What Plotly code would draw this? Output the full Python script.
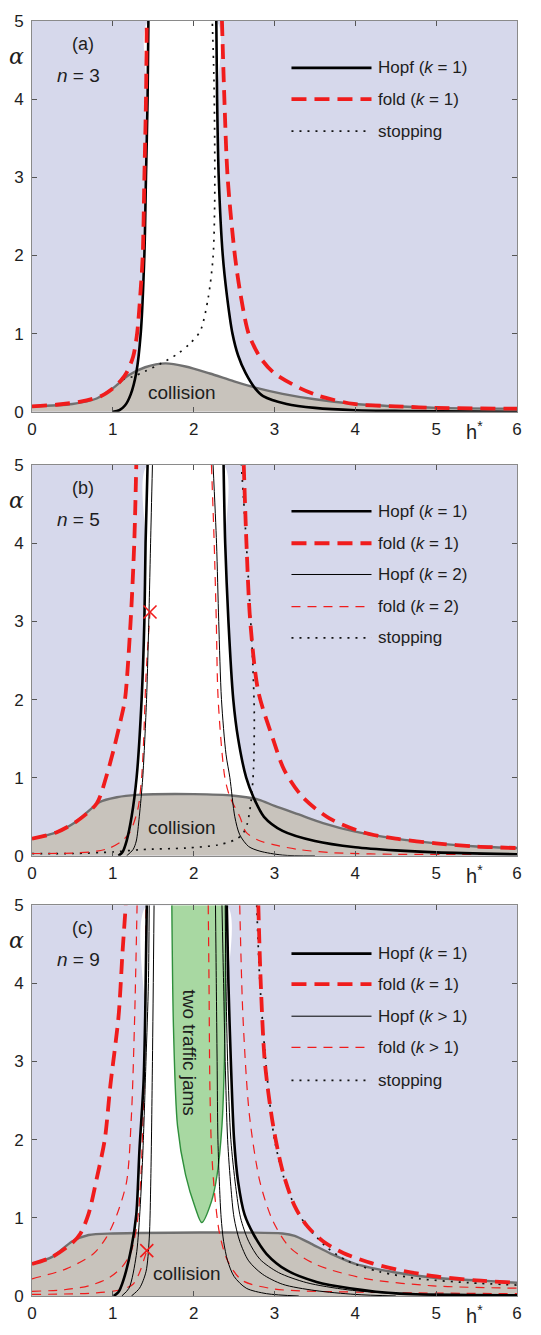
import plotly.graph_objects as go

# ================= DATA (h*, alpha) =================
# ---------- panel (a): n = 3 ----------
A_COLL_H = [0, 0.5, 0.8, 1.0, 1.2, 1.4, 1.65, 1.9, 2.2, 2.5, 2.8, 3.1, 3.5, 4.0, 4.5, 5.0, 6.0]
A_COLL_A = [0.07, 0.1, 0.17, 0.3, 0.47, 0.57, 0.62, 0.58, 0.49, 0.39, 0.3, 0.23, 0.16, 0.1, 0.07, 0.05, 0.04]
A_HOPF_L_H = [1.00, 1.08, 1.15, 1.22, 1.29, 1.345, 1.39, 1.41, 1.43, 1.44]
A_HOPF_L_A = [0.00, 0.02, 0.08, 0.22, 0.50, 1.00, 2.00, 3.00, 4.00, 5.00]
A_HOPF_R_H = [2.28, 2.29, 2.31, 2.36, 2.41, 2.48, 2.55, 2.64, 2.76, 2.86, 3.15, 3.5, 4.0, 4.6, 6.0]
A_HOPF_R_A = [5.0, 4.0, 3.0, 2.0, 1.5, 1.0, 0.72, 0.5, 0.3, 0.2, 0.1, 0.05, 0.02, 0.01, 0.0]
A_FOLD_L_H = [0.0, 0.3, 0.6, 0.85, 1.0, 1.1, 1.17, 1.25, 1.30, 1.34, 1.37, 1.39, 1.41, 1.42]
A_FOLD_L_A = [0.07, 0.09, 0.13, 0.2, 0.3, 0.4, 0.5, 0.7, 1.0, 1.5, 2.0, 3.0, 4.0, 5.0]
A_FOLD_R_H = [2.35, 2.38, 2.42, 2.51, 2.58, 2.68, 2.82, 2.99, 3.32, 3.56, 3.98, 4.5, 5.0, 6.0]
A_FOLD_R_A = [5.0, 4.0, 3.0, 2.0, 1.5, 1.0, 0.7, 0.5, 0.3, 0.2, 0.1, 0.07, 0.05, 0.04]
A_STOP_H = [1.12, 1.25, 1.4, 1.6, 1.8, 1.95, 2.08, 2.18, 2.24, 2.26, 2.26, 2.25, 2.23]
A_STOP_A = [0.42, 0.45, 0.52, 0.62, 0.74, 0.87, 1.03, 1.46, 1.98, 2.66, 3.5, 4.3, 5.0]

# ---------- panel (b): n = 5 ----------
B_COLL_H = [0, 0.3, 0.55, 0.84, 1.05, 1.3, 2.0, 2.5, 2.8, 3.0, 3.3, 3.6, 4.0, 4.5, 5.0, 5.5, 6.0]
B_COLL_A = [0.22, 0.3, 0.44, 0.69, 0.75, 0.78, 0.79, 0.77, 0.72, 0.64, 0.53, 0.42, 0.31, 0.22, 0.16, 0.12, 0.1]
B_HOPF1_L_H = [1.07, 1.12, 1.17, 1.232, 1.294, 1.356, 1.39, 1.405, 1.43]
B_HOPF1_L_A = [0.0, 0.05, 0.19, 0.5, 1.0, 2.0, 3.0, 4.0, 5.0]
B_HOPF1_R_H = [2.37, 2.39, 2.43, 2.49, 2.55, 2.65, 2.74, 2.87, 3.1, 3.5, 4.0, 4.5, 5.0, 6.0]
B_HOPF1_R_A = [5.0, 4.0, 3.0, 2.0, 1.5, 1.0, 0.75, 0.5, 0.32, 0.19, 0.11, 0.07, 0.045, 0.02]
B_HOPF2_L_H = [1.17, 1.25, 1.29, 1.327, 1.37, 1.417, 1.44, 1.467, 1.49]
B_HOPF2_L_A = [0.0, 0.08, 0.19, 0.5, 1.0, 2.0, 2.8, 4.0, 5.0]
B_HOPF2_R_H = [2.24, 2.283, 2.31, 2.344, 2.4, 2.448, 2.509, 2.57, 2.68, 2.82, 3.1, 3.5]
B_HOPF2_R_A = [5.0, 4.0, 3.0, 2.0, 1.3, 1.0, 0.5, 0.27, 0.12, 0.06, 0.01, 0.0]
B_FOLD1_L_H = [0.0, 0.3, 0.55, 0.8, 0.915, 1.02, 1.1, 1.15, 1.22, 1.265, 1.29]
B_FOLD1_L_A = [0.22, 0.3, 0.44, 0.67, 1.0, 1.4, 1.75, 2.0, 3.0, 4.0, 5.0]
B_FOLD1_R_H = [2.62, 2.653, 2.70, 2.80, 2.98, 3.12, 3.35, 3.68, 4.1, 4.5, 5.0, 5.5, 6.0]
B_FOLD1_R_A = [5.0, 4.0, 3.0, 2.1, 1.5, 1.1, 0.75, 0.48, 0.3, 0.22, 0.16, 0.12, 0.1]
B_FOLD2_L_H = [0.0, 0.5, 0.8, 0.96, 1.1, 1.21, 1.31, 1.356, 1.38, 1.41, 1.46]
B_FOLD2_L_A = [0.03, 0.035, 0.06, 0.1, 0.18, 0.3, 0.6, 1.0, 1.45, 2.29, 3.12]
B_FOLD2_R_H = [2.22, 2.254, 2.28, 2.303, 2.386, 2.45, 2.571, 2.65, 2.8, 3.0, 3.31, 3.73, 4.5, 6.0]
B_FOLD2_R_A = [5.0, 4.0, 3.0, 2.0, 1.0, 0.75, 0.5, 0.3, 0.2, 0.14, 0.08, 0.04, 0.02, 0.02]
B_STOP_H = [0.0, 0.5, 1.0, 1.35, 1.9, 2.3, 2.5, 2.6, 2.66, 2.71, 2.74, 2.75, 2.73, 2.69, 2.64, 2.59]
B_STOP_A = [0.03, 0.03, 0.05, 0.08, 0.1, 0.14, 0.2, 0.27, 0.4, 0.7, 1.1, 1.8, 2.5, 3.3, 4.2, 5.0]
B_CROSS = (1.46, 3.12)

# ---------- panel (c): n = 9 ----------
C_COLL_H = [0, 0.25, 0.5, 0.7, 1.0, 3.1, 3.25, 3.45, 3.7, 4.0, 4.5, 5.0, 5.5, 6.0]
C_COLL_A = [0.41, 0.5, 0.7, 0.78, 0.8, 0.8, 0.77, 0.67, 0.54, 0.41, 0.3, 0.23, 0.2, 0.17]
C_HOPF1_L_H = [1.01, 1.07, 1.13, 1.23, 1.29, 1.33, 1.38, 1.40, 1.42]
C_HOPF1_L_A = [0.0, 0.05, 0.2, 0.62, 1.04, 1.88, 2.73, 3.57, 5.0]
C_HOPF1_R_H = [2.41, 2.43, 2.46, 2.5, 2.55, 2.63, 2.74, 2.9, 3.15, 3.52, 3.93, 4.55, 6.0]
C_HOPF1_R_A = [5.0, 4.0, 3.0, 2.0, 1.46, 1.04, 0.79, 0.54, 0.33, 0.18, 0.1, 0.03, 0.01]
C_HOPFK_L1_H = [1.11, 1.2, 1.29, 1.33, 1.37, 1.41, 1.44, 1.45]
C_HOPFK_L1_A = [0.0, 0.1, 0.52, 1.0, 1.8, 3.0, 4.0, 5.0]
C_HOPFK_L2_H = [1.23, 1.33, 1.41, 1.45, 1.47, 1.49, 1.51]
C_HOPFK_L2_A = [0.0, 0.1, 0.31, 0.73, 1.5, 3.0, 5.0]
C_HOPFK_R1_H = [2.27, 2.28, 2.29, 2.30, 2.32, 2.34, 2.37, 2.42, 2.5, 2.65, 2.9, 3.3]
C_HOPFK_R1_A = [5.0, 4.0, 3.0, 2.0, 1.4, 1.0, 0.7, 0.45, 0.25, 0.1, 0.03, 0.0]
C_HOPFK_R2_H = [2.35, 2.37, 2.39, 2.42, 2.46, 2.5, 2.57, 2.68, 2.85, 3.1, 3.5, 4.0, 4.5]
C_HOPFK_R2_A = [5.0, 4.0, 3.0, 2.0, 1.4, 1.0, 0.7, 0.45, 0.28, 0.15, 0.07, 0.02, 0.0]
C_HOPFK_R3_H = [2.39, 2.40, 2.42, 2.46, 2.52, 2.58, 2.68, 2.82, 3.05, 3.4, 3.9, 4.5, 5.5]
C_HOPFK_R3_A = [5.0, 4.0, 3.0, 2.0, 1.4, 1.0, 0.7, 0.47, 0.3, 0.17, 0.08, 0.03, 0.0]
C_FOLD1_L_H = [0.0, 0.25, 0.5, 0.6, 0.7, 0.8, 0.9, 0.97, 1.07, 1.12, 1.16]
C_FOLD1_L_A = [0.41, 0.5, 0.68, 0.8, 1.05, 1.5, 2.0, 2.7, 3.57, 4.4, 5.0]
C_FOLD1_R_H = [2.80, 2.83, 2.88, 2.98, 3.1, 3.25, 3.4, 3.6, 3.85, 4.2, 4.6, 5.0, 5.5, 6.0]
C_FOLD1_R_A = [5.0, 4.0, 3.0, 2.2, 1.6, 1.15, 0.9, 0.7, 0.55, 0.42, 0.32, 0.25, 0.2, 0.17]
C_FOLDK_LA_H = [0.0, 0.43, 0.76, 0.92, 1.05, 1.17, 1.23, 1.27, 1.30]
C_FOLDK_LA_A = [0.22, 0.35, 0.54, 0.75, 1.04, 1.46, 2.31, 3.57, 5.0]
C_FOLDK_LB_H = [0.0, 0.4, 0.7, 0.95, 1.12, 1.22, 1.28, 1.32, 1.35, 1.38, 1.40, 1.41]
C_FOLDK_LB_A = [0.06, 0.08, 0.13, 0.23, 0.38, 0.55, 0.8, 1.1, 1.6, 2.5, 3.5, 5.0]
C_FOLDK_LC_H = [0.0, 0.8, 1.1, 1.25, 1.33, 1.38, 1.42]
C_FOLDK_LC_A = [0.02, 0.04, 0.08, 0.15, 0.3, 0.45, 0.58]
C_FOLDK_R1_H = [2.18, 2.19, 2.20, 2.22, 2.26, 2.32, 2.42, 2.6, 3.0, 4.0, 6.0]
C_FOLDK_R1_A = [5.0, 4.0, 2.73, 1.9, 1.3, 0.8, 0.45, 0.2, 0.09, 0.05, 0.03]
C_FOLDK_R2_H = [2.57, 2.61, 2.69, 2.82, 2.98, 3.19, 3.52, 4.14, 4.96, 6.0]
C_FOLDK_R2_A = [5.0, 3.57, 2.31, 1.46, 0.96, 0.62, 0.4, 0.22, 0.13, 0.1]
C_STOP_H = [2.78, 2.82, 2.9, 3.0, 3.12, 3.25, 3.38, 3.48, 3.65, 3.9, 4.3, 4.8, 5.4, 6.0]
C_STOP_A = [5.0, 4.0, 2.9, 2.0, 1.5, 1.15, 0.92, 0.8, 0.62, 0.45, 0.31, 0.22, 0.17, 0.14]
C_JAM_H = [1.73, 1.75, 1.80, 1.90, 2.02, 2.10, 2.22, 2.29, 2.35, 2.38, 2.39, 2.40]
C_JAM_A = [5.0, 3.44, 2.18, 1.55, 1.13, 0.94, 1.21, 1.55, 2.18, 3.0, 3.85, 5.0]
C_CROSS = (1.42, 0.58)

X_TICKS = [0, 1, 2, 3, 4, 5, 6]
Y_TICKS = [0, 1, 2, 3, 4, 5]

# ================= STYLE =================
LAV = "#d6d8eb"
COLL_FILL = "#c8c3bc"
COLL_LINE = "#707070"
RED = "#f01c1c"
JAM_FILL = "#a8d8a2"
JAM_LINE = "#2f8f3c"
FONT = "Liberation Sans"
TXT = "#1e1e1e"

THICK_BLACK = dict(color="black", width=2.6)
THIN_BLACK = dict(color="black", width=1.0)
THICK_RED = dict(color=RED, width=3.8, dash="15px,8px")
THIN_RED = dict(color=RED, width=1.2, dash="9px,7px")
DOTTED = dict(color="#111111", width=1.7, dash="2px,6px")

fig = go.Figure()


def ax(i):
    return ("x" if i == 1 else f"x{i}"), ("y" if i == 1 else f"y{i}")


def line(i, h, a, style, fill=None, fillcolor=None):
    xa, ya = ax(i)
    fig.add_trace(go.Scatter(x=h, y=a, mode="lines", line=dict(shape="spline", smoothing=0.8, **style),
                             fill=fill, fillcolor=fillcolor, xaxis=xa, yaxis=ya,
                             showlegend=False, hoverinfo="skip"))


def white_region(i, lh, la, rh, ra):
    xa, ya = ax(i)
    fig.add_trace(go.Scatter(x=list(lh) + list(rh), y=list(la) + list(ra), mode="lines",
                             line=dict(width=0, shape="spline", smoothing=0.8), fill="toself",
                             fillcolor="white", xaxis=xa, yaxis=ya, showlegend=False,
                             hoverinfo="skip"))


def collision(i, h, a):
    line(i, h, a, dict(color=COLL_LINE, width=2.4), fill="tozeroy", fillcolor=COLL_FILL)


def cross(i, pt):
    xa, ya = ax(i)
    fig.add_trace(go.Scatter(x=[pt[0]], y=[pt[1]], mode="markers",
                             marker=dict(symbol="x-thin", size=13, line=dict(color=RED, width=1.6)),
                             xaxis=xa, yaxis=ya, showlegend=False, hoverinfo="skip"))


# ---------- panel a ----------
white_region(1, A_HOPF_L_H, A_HOPF_L_A, A_HOPF_R_H, A_HOPF_R_A)
collision(1, A_COLL_H, A_COLL_A)
line(1, A_STOP_H, A_STOP_A, DOTTED)
line(1, A_HOPF_L_H, A_HOPF_L_A, THICK_BLACK)
line(1, A_HOPF_R_H, A_HOPF_R_A, THICK_BLACK)
line(1, A_FOLD_L_H, A_FOLD_L_A, THICK_RED)
line(1, A_FOLD_R_H, A_FOLD_R_A, THICK_RED)

# ---------- panel b ----------
white_region(2, B_HOPF1_L_H, B_HOPF1_L_A, B_HOPF1_R_H, B_HOPF1_R_A)
collision(2, B_COLL_H, B_COLL_A)
line(2, B_STOP_H, B_STOP_A, DOTTED)
line(2, B_FOLD2_L_H, B_FOLD2_L_A, THIN_RED)
line(2, B_FOLD2_R_H, B_FOLD2_R_A, THIN_RED)
line(2, B_HOPF2_L_H, B_HOPF2_L_A, THIN_BLACK)
line(2, B_HOPF2_R_H, B_HOPF2_R_A, THIN_BLACK)
line(2, B_HOPF1_L_H, B_HOPF1_L_A, THICK_BLACK)
line(2, B_HOPF1_R_H, B_HOPF1_R_A, THICK_BLACK)
line(2, B_FOLD1_L_H, B_FOLD1_L_A, THICK_RED)
line(2, B_FOLD1_R_H, B_FOLD1_R_A, THICK_RED)
cross(2, B_CROSS)

# ---------- panel c ----------
white_region(3, C_HOPF1_L_H, C_HOPF1_L_A, C_HOPF1_R_H, C_HOPF1_R_A)
collision(3, C_COLL_H, C_COLL_A)
xa3, ya3 = ax(3)
fig.add_trace(go.Scatter(x=C_JAM_H, y=C_JAM_A, mode="lines", fill="toself", fillcolor=JAM_FILL,
                         line=dict(color=JAM_LINE, width=1.4, shape="spline", smoothing=0.8),
                         xaxis=xa3, yaxis=ya3, showlegend=False, hoverinfo="skip"))
line(3, C_STOP_H, C_STOP_A, DOTTED)
for hh, aa in [(C_FOLDK_LA_H, C_FOLDK_LA_A), (C_FOLDK_LB_H, C_FOLDK_LB_A), (C_FOLDK_LC_H, C_FOLDK_LC_A),
               (C_FOLDK_R1_H, C_FOLDK_R1_A), (C_FOLDK_R2_H, C_FOLDK_R2_A)]:
    line(3, hh, aa, THIN_RED)
for hh, aa in [(C_HOPFK_L1_H, C_HOPFK_L1_A), (C_HOPFK_L2_H, C_HOPFK_L2_A), (C_HOPFK_R1_H, C_HOPFK_R1_A),
               (C_HOPFK_R2_H, C_HOPFK_R2_A), (C_HOPFK_R3_H, C_HOPFK_R3_A)]:
    line(3, hh, aa, THIN_BLACK)
line(3, C_HOPF1_L_H, C_HOPF1_L_A, THICK_BLACK)
line(3, C_HOPF1_R_H, C_HOPF1_R_A, THICK_BLACK)
line(3, C_FOLD1_L_H, C_FOLD1_L_A, THICK_RED)
line(3, C_FOLD1_R_H, C_FOLD1_R_A, THICK_RED)
cross(3, C_CROSS)

# ================= AXES / LAYOUT =================
W, H = 541, 1335
ML, MR, MT, MB = 32, 24, 14, 29
PH = H - MT - MB
domains = [(1 - 396 / PH, 1.0), (1 - 846 / PH, 1 - 450 / PH), (0.0, 396 / PH)]

layout = dict(width=W, height=H, margin=dict(l=ML, r=MR, t=MT, b=MB),
              paper_bgcolor="white", plot_bgcolor=LAV, showlegend=False,
              font=dict(family=FONT, size=16, color=TXT))
for i in (1, 2, 3):
    xk = "xaxis" if i == 1 else f"xaxis{i}"
    yk = "yaxis" if i == 1 else f"yaxis{i}"
    ya = "y" if i == 1 else f"y{i}"
    xa = "x" if i == 1 else f"x{i}"
    layout[xk] = dict(domain=[0, 1], anchor=ya, range=[0, 6], tickvals=X_TICKS,
                      ticks="inside", ticklen=5, tickcolor="#555", showline=True, linecolor="#8a8a8a",
                      linewidth=1, mirror="ticks", showgrid=False, zeroline=False,
                      tickfont=dict(size=17, family=FONT, color=TXT), ticklabelstandoff=2)
    layout[yk] = dict(domain=list(domains[i - 1]), anchor=xa, range=[0, 5], tickvals=Y_TICKS,
                      ticks="inside", ticklen=5, tickcolor="#555", showline=True, linecolor="#8a8a8a",
                      linewidth=1, mirror="ticks", showgrid=False, zeroline=False,
                      tickfont=dict(size=17, family=FONT, color=TXT), ticklabelstandoff=4)
fig.update_layout(**layout)

# ---------- labels & hand-drawn legends ----------
panel_info = [
    (1, "(a)", "3", [("Hopf (<i>k</i> = 1)", THICK_BLACK), ("fold (<i>k</i> = 1)", THICK_RED),
                     ("stopping", DOTTED)], [4.40, 4.0, 3.59], 1.86, 0.25),
    (2, "(b)", "5", [("Hopf (<i>k</i> = 1)", THICK_BLACK), ("fold (<i>k</i> = 1)", THICK_RED),
                     ("Hopf (<i>k</i> = 2)", THIN_BLACK), ("fold (<i>k</i> = 2)", THIN_RED),
                     ("stopping", DOTTED)], [4.41, 4.0, 3.60, 3.19, 2.79], 1.86, 0.36),
    (3, "(c)", "9", [("Hopf (<i>k</i> = 1)", THICK_BLACK), ("fold (<i>k</i> = 1)", THICK_RED),
                     ("Hopf (<i>k</i> > 1)", THIN_BLACK), ("fold (<i>k</i> > 1)", THIN_RED),
                     ("stopping", DOTTED)], [4.38, 3.99, 3.58, 3.18, 2.76], 1.92, 0.29),
]
for i, tag, n, items, rows, cx, cy in panel_info:
    xa, ya = ax(i)
    fig.add_annotation(x=0.63, y=4.71, xref=xa, yref=ya, text=tag, showarrow=False,
                       font=dict(size=18, family=FONT, color=TXT))
    fig.add_annotation(x=0.57, y=4.30, xref=xa, yref=ya, text=f"<i>n</i> = {n}", showarrow=False,
                       font=dict(size=19, family=FONT, color=TXT))
    fig.add_annotation(x=-0.052, y=4.55, xref=f"{xa} domain", yref=ya, text="<i>α</i>",
                       showarrow=False, font=dict(size=22, family="DejaVu Serif", color=TXT))
    fig.add_annotation(x=5.48, y=-0.085, xref=xa, yref=f"{ya} domain", text="h<sup>*</sup>",
                       showarrow=False, font=dict(size=20, family=FONT, color=TXT))
    fig.add_annotation(x=cx, y=cy, xref=xa, yref=ya, text="collision", showarrow=False,
                       font=dict(size=19, family=FONT, color=TXT))
    for (label, st), r in zip(items, rows):
        fig.add_shape(type="line", xref=xa, yref=ya, x0=3.21, x1=4.20, y0=r, y1=r,
                      line=dict(color=st["color"], width=st["width"], dash=st.get("dash", "solid")))
        fig.add_annotation(x=4.26, y=r, xref=xa, yref=ya, text=label, showarrow=False,
                           xanchor="left", font=dict(size=17, family=FONT, color=TXT))

fig.add_annotation(x=1.95, y=3.12, xref="x3", yref="y3", text="two traffic jams", textangle=90,
                   showarrow=False, font=dict(size=19, family=FONT, color=TXT))

fig.write_html("out.html")
